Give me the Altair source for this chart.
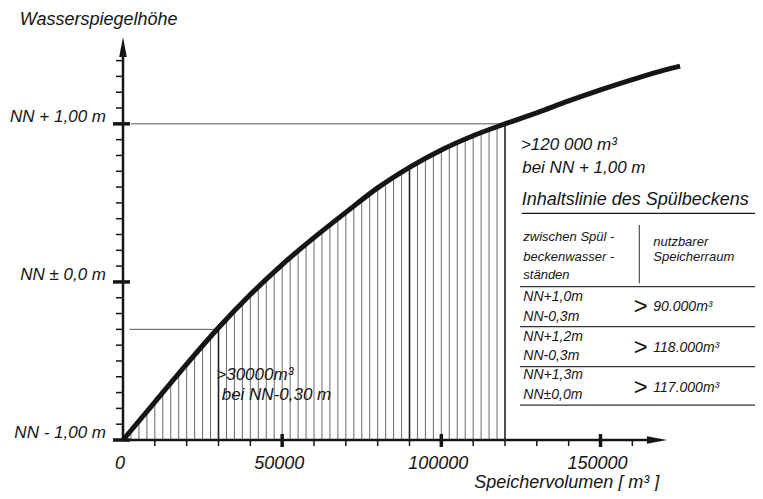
import altair as alt
import pandas as pd

# ---- data ----
volume = [0, 10000, 20000, 30000, 40000, 50000, 60000, 70000, 80000, 90000,
          100000, 110000, 120000, 130000, 140000, 150000, 160000, 170000, 175000]
level = [-1.0, -0.76, -0.52, -0.29, -0.08, 0.11, 0.28, 0.44, 0.595, 0.725,
         0.835, 0.925, 1.0, 1.07, 1.145, 1.215, 1.28, 1.34, 1.365]

y_tick_values = [-1.0, 0.0, 1.0]
y_tick_labels = ["NN - 1,00 m", "NN ± 0,0 m", "NN + 1,00 m"]
y_minor_ticks = [-0.9, -0.8, -0.7, -0.6, -0.5, -0.4, -0.3, -0.2, -0.1,
                 0.1, 0.2, 0.3, 0.4, 0.5, 0.6, 0.7, 0.8, 0.9, 1.1, 1.2, 1.3, 1.4]
x_tick_values = [0, 50000, 100000, 150000]
x_tick_labels = ["0", "50000", "100000", "150000"]
x_minor_ticks = [10000, 20000, 30000, 40000, 60000, 70000, 80000, 90000,
                 110000, 120000, 130000, 140000, 160000]
hatch_x = list(range(2500, 120001, 2500))
hatch_strong = [30000, 90000, 120000]

table_from = ["NN+1,0m", "NN+1,2m", "NN+1,3m"]
table_to = ["NN-0,3m", "NN-0,3m", "NN±0,0m"]
table_volume = ["90.000m³", "118.000m³", "117.000m³"]

FONT = "Liberation Sans"
INK = "#151515"
XS = alt.Scale(domain=[0, 180000], nice=False, zero=False)
YS = alt.Scale(domain=[-1.0, 1.6], nice=False, zero=False)


def X(f):
    return alt.X(f, type="quantitative", scale=XS, axis=None)


def Y(f):
    return alt.Y(f, type="quantitative", scale=YS, axis=None)


def label(text, x, y, size=17, align="left", baseline="alphabetic", dx=0, dy=0):
    df = pd.DataFrame({"x": [x], "y": [y], "t": [text]})
    return alt.Chart(df).mark_text(
        align=align, baseline=baseline, fontSize=size, font=FONT,
        fontStyle="italic", dx=dx, dy=dy, color=INK
    ).encode(x=X("x"), y=Y("y"), text="t:N")


def hseg(x1, x2, y, color="#555", width=1.0):
    df = pd.DataFrame({"x": [x1], "x2": [x2], "y": [y]})
    return alt.Chart(df).mark_rule(color=color, strokeWidth=width).encode(
        x=X("x"), x2="x2:Q", y=Y("y"))


curve_df = pd.DataFrame({"v": volume, "h": level})

# hatching under the curve (rules up to NN+1, then masked above the curve)
hatch_df = pd.DataFrame({"v": hatch_x})
hatch_df["strong"] = hatch_df["v"].isin(hatch_strong)
hatch = alt.Chart(hatch_df).transform_calculate(y0="-1", y1="1").mark_rule().encode(
    x=X("v"), y=Y("y0"), y2="y1:Q",
    color=alt.Color("strong:N", scale=alt.Scale(domain=[False, True], range=["#6a6a6a", "#222222"]), legend=None),
    strokeWidth=alt.StrokeWidth("strong:N", scale=alt.Scale(domain=[False, True], range=[1.0, 1.6]), legend=None),
)
mask = alt.Chart(curve_df).transform_filter("datum.v <= 120000").transform_calculate(top="1.2").mark_area(
    color="white", opacity=1, interpolate="monotone").encode(x=X("v"), y=Y("h"), y2="top:Q")

# reference lines
ref1 = hseg(2500, 120000, 1.0)
ref2 = hseg(2000, 30000, -0.30)

# axes
yaxis = alt.Chart(pd.DataFrame({"x": [0], "y": [-1.0], "y2": [1.45]})).mark_rule(
    color=INK, strokeWidth=2.5).encode(x=X("x"), y=Y("y"), y2="y2:Q")
xaxis = alt.Chart(pd.DataFrame({"x": [0], "x2": [167000], "y": [-1.0]})).mark_rule(
    color=INK, strokeWidth=2.5).encode(x=X("x"), x2="x2:Q", y=Y("y"))
yarrow = alt.Chart(pd.DataFrame({"x": [0], "y": [1.486]})).mark_point(
    shape="M0,-1L0.38,1L-0.38,1Z", filled=True, size=400, color=INK, opacity=1
).encode(x=X("x"), y=Y("y"))
xarrow = alt.Chart(pd.DataFrame({"x": [167750], "y": [-1.0]})).mark_point(
    shape="M1,0L-1,-0.38L-1,0.38Z", filled=True, size=400, color=INK, opacity=1
).encode(x=X("x"), y=Y("y"))

ymin = alt.Chart(pd.DataFrame({"y": y_minor_ticks})).transform_calculate(x0="0").mark_rule(
    color=INK, strokeWidth=1.5, x2Offset=-7).encode(x=X("x0"), x2="x0:Q", y=Y("y"))
ymaj = alt.Chart(pd.DataFrame({"y": y_tick_values})).transform_calculate(x0="0").mark_rule(
    color=INK, strokeWidth=3.5, xOffset=-10, x2Offset=7).encode(x=X("x0"), x2="x0:Q", y=Y("y"))
xmin = alt.Chart(pd.DataFrame({"x": x_minor_ticks})).transform_calculate(y0="-1").mark_rule(
    color=INK, strokeWidth=1.5, y2Offset=6).encode(x=X("x"), y=Y("y0"), y2="y0:Q")
xmaj = alt.Chart(pd.DataFrame({"x": x_tick_values[1:]})).transform_calculate(y0="-1").mark_rule(
    color=INK, strokeWidth=3.5, yOffset=-6, y2Offset=7).encode(x=X("x"), y=Y("y0"), y2="y0:Q")

curve = alt.Chart(curve_df).mark_line(
    color=INK, strokeWidth=5, interpolate="monotone", strokeCap="butt").encode(x=X("v"), y=Y("h"))

# tick labels
ylab = alt.Chart(pd.DataFrame({"y": y_tick_values, "t": y_tick_labels})).transform_calculate(x0="0").mark_text(
    align="right", baseline="alphabetic", dx=-17, dy=-2, fontSize=17, font=FONT, fontStyle="italic", color=INK
).encode(x=X("x0"), y=Y("y"), text="t:N")
xlab = alt.Chart(pd.DataFrame({"x": x_tick_values, "t": x_tick_labels})).transform_calculate(y0="-1").mark_text(
    align="center", baseline="alphabetic", dx=-3, dy=29, fontSize=18, font=FONT, fontStyle="italic", color=INK
).encode(x=X("x"), y=Y("y0"), text="t:N")

texts = [
    label("Wasserspiegelhöhe", -32400, 1.657, size=18, baseline="middle"),
    label("Speichervolumen [ m³ ]", 139400, -1.0, size=18, align="center", dy=48),
    label(">30000m³", 29300, -0.620, size=17),
    label("bei NN-0,30 m", 31000, -0.747, size=17),
    label(">120 000 m³", 125000, 0.835, size=17),
    label("bei  NN + 1,00 m", 125400, 0.687, size=17),
    label("Inhaltslinie des Spülbeckens", 125250, 0.487, size=18),
]

# table
TXL = 125750
TXR = 166590
table_parts = [
    hseg(125250, 200000, 0.434, color=INK, width=1.2),
    label("zwischen Spül -", TXL, 0.286, size=13, baseline="middle"),
    label("beckenwasser -", TXL, 0.160, size=13, baseline="middle"),
    label("ständen", TXL, 0.044, size=13, baseline="middle"),
    label("nutzbarer", TXR, 0.254, size=13, baseline="middle"),
    label("Speicherraum", TXR, 0.156, size=13, baseline="middle"),
]
div = alt.Chart(pd.DataFrame({"x": [162190], "y": [-0.009], "y2": [0.360]})).mark_rule(
    color="#333", strokeWidth=1).encode(x=X("x"), y=Y("y"), y2="y2:Q")
table_parts.append(div)
for yl in [-0.030, -0.283, -0.536, -0.779]:
    table_parts.append(hseg(124700, 200000, yl, color="#333", width=1.2))
row_top = [-0.0935, -0.347, -0.589]
row_bot = [-0.220, -0.469, -0.715]
row_mid = [-0.157, -0.416, -0.673]
for i in range(3):
    table_parts.append(label(table_from[i], TXL, row_top[i], size=14, baseline="middle"))
    table_parts.append(label(table_to[i], TXL, row_bot[i], size=14, baseline="middle"))
    table_parts.append(label(">", 160300, row_mid[i], size=24, baseline="middle"))
    table_parts.append(label(table_volume[i], TXR, row_mid[i], size=14, baseline="middle"))

chart = alt.layer(
    hatch, mask, ref1, ref2, *table_parts, yaxis, xaxis, ymin, ymaj, xmin, xmaj,
    yarrow, xarrow, curve, ylab, xlab, *texts
).properties(
    width=573, height=411,
    padding={"left": 115, "top": 21, "right": 59, "bottom": 51},
    autosize=alt.AutoSizeParams(type="none"),
).configure(background="white").configure_view(stroke="transparent")

chart.save("out.html", embed_options={"renderer": "svg", "actions": False})
